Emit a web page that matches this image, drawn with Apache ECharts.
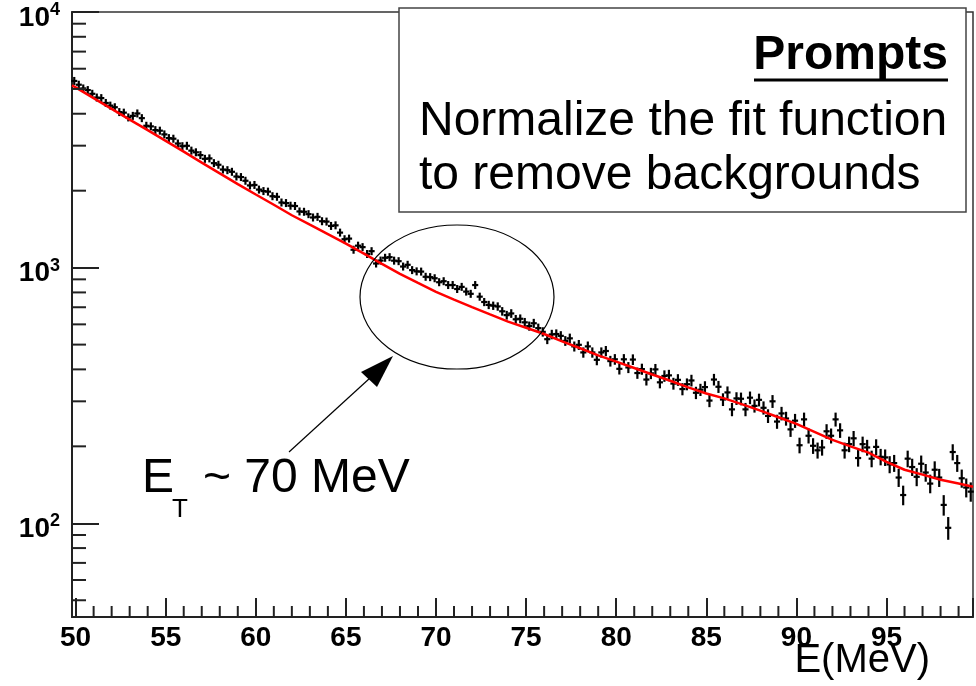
<!DOCTYPE html>
<html>
<head>
<meta charset="utf-8">
<script src="https://cdn.jsdelivr.net/npm/echarts@6/dist/echarts.min.js"></script>
<style>
  html, body { margin: 0; padding: 0; background: #fff; }
  #chart { width: 976px; height: 686px; }
</style>
</head>
<body>
<div id="chart"></div>
<script>
// histogram binning (MeV)
const binLow = 49.8;
const binWidth = 0.25;

// counts per bin (4 bins per MeV)
const counts = [
  5374, 5195, 5023, 4950,
  4787, 4628, 4604, 4408,
  4303, 4241, 4060, 4039,
  3869, 3924, 4010, 3844,
  3589, 3570, 3451, 3434,
  3321, 3211, 3194, 3059,
  2986, 2997, 2869, 2826,
  2756, 2665, 2675, 2563,
  2526, 2420, 2406, 2371,
  2272, 2261, 2187, 2097,
  2106, 2020, 1993, 1983,
  1903, 1893, 1798, 1789,
  1747, 1742, 1659, 1654,
  1619, 1571, 1580, 1519,
  1514, 1456, 1464, 1371,
  1292, 1299, 1175, 1219,
  1203, 1131, 1160, 1038,
  1066, 1093, 1099, 1065,
  1060, 1010, 1026, 978,
  967, 965, 921, 918,
  909, 877, 885, 855,
  855, 825, 841, 806,
  790, 855, 770, 734,
  715, 710, 705, 675,
  652, 662, 628, 631,
  611, 591, 606, 580,
  561, 525, 548, 550,
  541, 517, 529, 492,
  499, 466, 492, 466,
  436, 466, 472, 431,
  438, 402, 438, 407,
  437, 387, 401, 365,
  386, 400, 356, 377,
  379, 352, 364, 335,
  350, 362, 324, 333,
  341, 302, 365, 342,
  305, 325, 279, 308,
  307, 279, 310, 288,
  304, 283, 263, 300,
  250, 269, 257, 233,
  252, 202, 255, 220,
  201, 193, 198, 229,
  220, 255, 231, 193,
  204, 215, 180, 204,
  198, 179, 199, 182,
  181, 170, 172, 151,
  129, 179, 166, 152,
  171, 158, 143, 162,
  151, 118, 96, 190,
  172, 150, 138, 133
];

// fit function (red)
const fitE = [49.8, 50, 51, 52, 53, 54, 55, 56, 57, 58, 59, 60, 61, 62, 63, 64, 65, 66, 67, 68, 69,
  70, 71, 72, 73, 74, 75, 76, 77, 78, 79, 80, 81, 82, 83, 84, 85, 86, 87, 88, 89,
  90, 91, 92, 93, 94, 95, 96, 97, 98, 99, 99.8];
const fitN = [5160, 5070, 4603, 4178, 3793, 3451, 3133, 2844, 2576, 2339, 2123, 1932, 1762, 1603, 1472, 1352, 1242, 1135, 1035, 946, 871,
  804, 750, 701, 656, 615, 582, 550, 515, 484, 454, 429, 405, 382, 361, 340, 322, 308, 292, 276, 260,
  245, 228, 212, 200, 189, 174, 162, 155, 148, 143, 139];

// minor tick positions
const xMinorTicks = [51, 52, 53, 54, 56, 57, 58, 59, 61, 62, 63, 64, 66, 67, 68, 69, 71, 72, 73, 74,
  76, 77, 78, 79, 81, 82, 83, 84, 86, 87, 88, 89, 91, 92, 93, 94, 96, 97, 98, 99];
const yMinorTicks = [50, 60, 70, 80, 90, 200, 300, 400, 500, 600, 700, 800, 900,
  2000, 3000, 4000, 5000, 6000, 7000, 8000, 9000];

const xMin = 49.8, xMax = 99.8, yMin = 43, yMax = 10000;
const FONT = "'Liberation Sans', Arial, Helvetica, sans-serif";

const points = counts.map((n, i) => [binLow + (i + 0.5) * binWidth, n]);
const fitLine = fitE.map((e, i) => [e, fitN[i]]);

const chart = echarts.init(document.getElementById("chart"));

const option = {
  animation: false,
  backgroundColor: "#fff",
  grid: {
    left: 72,
    right: 3,
    top: 12,
    bottom: 69,
    outerBoundsMode: "none",
    containLabel: false,
    show: true,
    borderColor: "#333",
    borderWidth: 1.5,
  },
  xAxis: {
    type: "value",
    min: xMin,
    max: xMax,
    splitNumber: 10,
    axisLine: { show: true, onZero: false, lineStyle: { color: "#222", width: 2 } },
    axisTick: { show: true, inside: true, length: 19, lineStyle: { color: "#222", width: 2 } },
    splitLine: { show: false },
    axisLabel: {
      color: "#000",
      fontSize: 28,
      fontWeight: "bold",
      fontFamily: FONT,
      margin: 7,
      formatter: function (v) {
        return Math.abs(v - Math.round(v / 5) * 5) < 1e-6 ? String(Math.round(v)) : "";
      },
    },
  },
  yAxis: {
    type: "log",
    logBase: 10,
    min: yMin,
    max: yMax,
    axisLine: { show: true, lineStyle: { color: "#222", width: 2 } },
    axisTick: { show: true, inside: true, length: 27, lineStyle: { color: "#222", width: 2 } },
    splitLine: { show: false },
    axisLabel: {
      margin: 12,
      padding: [12, 0, 0, 0],
      formatter: function (v) {
        const lg = Math.log10(v);
        const e = Math.round(lg);
        if (Math.abs(lg - e) < 1e-6) return "{b|10}{s|" + e + "}";
        return "";
      },
      rich: {
        b: { fontSize: 28, fontWeight: "bold", fontFamily: FONT, color: "#000", lineHeight: 30, verticalAlign: "middle" },
        s: { fontSize: 18, fontWeight: "bold", fontFamily: FONT, color: "#000", lineHeight: 18, padding: [0, 0, 16, 0], verticalAlign: "middle" },
      },
    },
  },
  series: [
    {
      // data points with error bars
      type: "custom",
      data: points,
      z: 3,
      renderItem: function (params, api) {
        const x = api.value(0);
        const n = api.value(1);
        const err = Math.sqrt(n);
        const c = api.coord([x, n]);
        const top = api.coord([x, n + err]);
        const bot = api.coord([x, n - err]);
        const l = api.coord([x - binWidth / 2, n]);
        const r = api.coord([x + binWidth / 2, n]);
        const y1 = Math.min(top[1], c[1] - 4);
        const y2 = Math.max(bot[1], c[1] + 4);
        const st = { stroke: "#000", lineWidth: 2.2 };
        return {
          type: "group",
          children: [
            { type: "line", shape: { x1: c[0], y1: y1, x2: c[0], y2: y2 }, style: st },
            { type: "line", shape: { x1: l[0] - 0.8, y1: c[1], x2: r[0] + 0.8, y2: c[1] }, style: st },
          ],
        };
      },
    },
    {
      type: "line",
      data: fitLine,
      z: 4,
      symbol: "none",
      lineStyle: { color: "#ff0000", width: 2.5 },
    },
    {
      // y minor ticks
      type: "custom",
      data: yMinorTicks.map((v) => [xMin, v]),
      z: 5,
      renderItem: function (params, api) {
        const p = api.coord([xMin, api.value(1)]);
        return {
          type: "line",
          shape: { x1: p[0], y1: p[1], x2: p[0] + 14, y2: p[1] },
          style: { stroke: "#222", lineWidth: 2 },
        };
      },
    },
    {
      // x minor ticks
      type: "custom",
      data: xMinorTicks.map((v) => [v, yMin]),
      z: 5,
      renderItem: function (params, api) {
        const p = api.coord([api.value(0), yMin]);
        return {
          type: "line",
          shape: { x1: p[0], y1: p[1], x2: p[0], y2: p[1] - 11 },
          style: { stroke: "#222", lineWidth: 2 },
        };
      },
    },
  ],
  graphic: [
    {
      type: "rect",
      shape: { x: 399, y: 8, width: 567, height: 204 },
      style: { fill: "#fff", stroke: "#444", lineWidth: 1.5 },
      z: 100,
    },
    {
      type: "text",
      x: 948,
      y: 56,
      z: 101,
      style: { text: "Prompts", font: "bold 48px " + FONT, fill: "#000", align: "right", verticalAlign: "middle" },
    },
    {
      type: "line",
      z: 101,
      shape: { x1: 754, y1: 80, x2: 948, y2: 80 },
      style: { stroke: "#000", lineWidth: 3 },
    },
    {
      type: "text",
      x: 419,
      y: 122,
      z: 101,
      style: { text: "Normalize the fit function", font: "48px " + FONT, fill: "#000", align: "left", verticalAlign: "middle" },
    },
    {
      type: "text",
      x: 419,
      y: 176,
      z: 101,
      style: { text: "to remove backgrounds", font: "48px " + FONT, fill: "#000", align: "left", verticalAlign: "middle" },
    },
    {
      type: "ellipse",
      z: 101,
      shape: { cx: 457, cy: 297, rx: 97, ry: 72 },
      style: { fill: "none", stroke: "#000", lineWidth: 1.2 },
    },
    {
      type: "line",
      z: 101,
      shape: { x1: 289, y1: 452, x2: 370, y2: 378 },
      style: { stroke: "#000", lineWidth: 1.2 },
    },
    {
      type: "polygon",
      z: 101,
      shape: { points: [[393, 356], [361, 372], [377, 387]] },
      style: { fill: "#000" },
    },
    {
      type: "text",
      x: 142,
      y: 479,
      z: 101,
      style: { text: "E", font: "48px " + FONT, fill: "#000", align: "left", verticalAlign: "middle" },
    },
    {
      type: "text",
      x: 172,
      y: 510,
      z: 101,
      style: { text: "T", font: "26px " + FONT, fill: "#000", align: "left", verticalAlign: "middle" },
    },
    {
      type: "text",
      x: 203,
      y: 479,
      z: 101,
      style: { text: "~ 70 MeV", font: "48px " + FONT, fill: "#000", align: "left", verticalAlign: "middle" },
    },
    {
      type: "text",
      x: 930,
      y: 661,
      z: 101,
      style: { text: "E(MeV)", font: "40px " + FONT, fill: "#000", align: "right", verticalAlign: "middle" },
    },
  ],
};

chart.setOption(option);
</script>
</body>
</html>
